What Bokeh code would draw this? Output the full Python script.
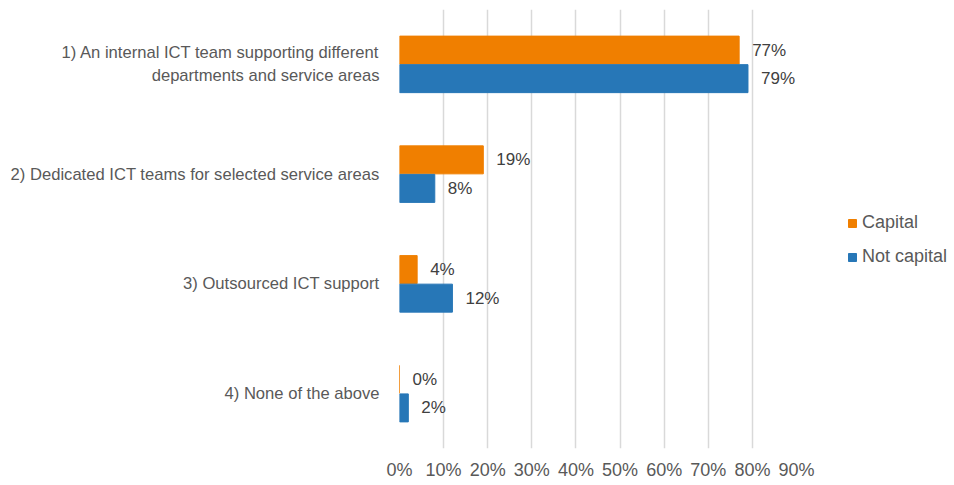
from bokeh.plotting import figure
from bokeh.models import ColumnDataSource, FactorRange, Legend, LegendItem, FixedTicker
from bokeh.transform import dodge
from bokeh.embed import file_html
from bokeh.resources import INLINE
from bokeh.core.properties import value

categories = [
    "1) An internal ICT team supporting different\ndepartments and service areas",
    "2) Dedicated ICT teams for selected service areas",
    "3) Outsourced ICT support",
    "4) None of the above",
]
capital = [77, 19, 4, 0]
not_capital = [79, 8, 12, 2]
x_ticks = [0, 10, 20, 30, 40, 50, 60, 70, 80, 90]

ORANGE = "#F07F00"
BLUE = "#2777B7"
FONT = "Liberation Sans"

src = ColumnDataSource(dict(
    cat=categories,
    capital=capital,
    not_capital=not_capital,
    cap_lbl=[f"{v}%" for v in capital],
    nc_lbl=[f"{v}%" for v in not_capital],
))

p = figure(
    frame_width=397, frame_height=439,
    y_range=FactorRange(factors=categories[::-1], range_padding=0),
    x_range=(0, 90),
    output_backend="svg", toolbar_location=None,
    min_border_left=399, min_border_top=9, min_border_bottom=30, min_border_right=150,
)
p.outline_line_color = None
p.background_fill_color = "white"

r_cap = p.hbar(y=dodge("cat", 0.13, range=p.y_range), right="capital", left=0,
               height=0.255, source=src, color=ORANGE)
r_nc = p.hbar(y=dodge("cat", -0.13, range=p.y_range), right="not_capital", left=0,
              height=0.255, source=src, color=BLUE)

p.text(x="capital", y=dodge("cat", 0.13, range=p.y_range), text="cap_lbl", source=src,
       x_offset=13, text_baseline="middle", text_align="left",
       text_font=value(FONT), text_font_size="17px", text_color="#404040")
p.text(x="not_capital", y=dodge("cat", -0.13, range=p.y_range), text="nc_lbl", source=src,
       x_offset=13, text_baseline="middle", text_align="left",
       text_font=value(FONT), text_font_size="17px", text_color="#404040")

p.xaxis.ticker = FixedTicker(ticks=x_ticks)
p.xaxis.major_label_overrides = {t: f"{t}%" for t in x_ticks}
p.xaxis.axis_line_color = None
p.xaxis.major_tick_line_color = None
p.xaxis.minor_tick_line_color = None
p.xaxis.major_label_text_font = FONT
p.xaxis.major_label_text_font_size = "18px"
p.xaxis.major_label_text_color = "#595959"
p.xaxis.major_label_standoff = 5

p.yaxis.axis_line_color = None
p.yaxis.major_tick_line_color = None
p.yaxis.minor_tick_line_color = None
p.yaxis.major_label_text_font = FONT
p.yaxis.major_label_text_font_size = "16.6px"
p.yaxis.major_label_text_color = "#595959"
p.yaxis.major_label_standoff = 14

p.xgrid.grid_line_color = "#D9D9D9"
p.xgrid.grid_line_width = 1.5
p.ygrid.grid_line_color = None

legend = Legend(items=[
    LegendItem(label="Capital", renderers=[r_cap]),
    LegendItem(label="Not capital", renderers=[r_nc]),
], location=(51, 181))
legend.border_line_color = None
legend.background_fill_alpha = 0
legend.label_text_font = FONT
legend.label_text_font_size = "18px"
legend.label_text_color = "#595959"
legend.glyph_width = 10
legend.glyph_height = 10
legend.label_standoff = 5
legend.spacing = 13
legend.margin = 0
legend.padding = 6
p.add_layout(legend, "right")

open("out.html", "w").write(file_html(p, INLINE))
